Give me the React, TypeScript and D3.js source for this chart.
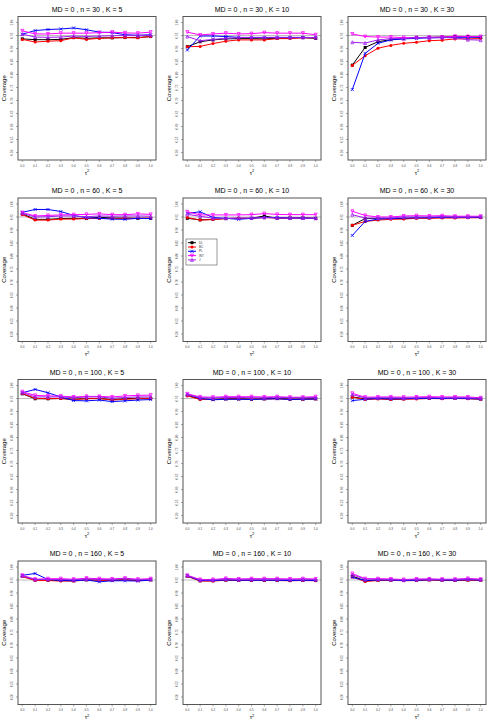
import * as d3 from "d3";

const W = 495;
const H = 726;

const tau = [0, 0.1, 0.2, 0.3, 0.4, 0.5, 0.6, 0.7, 0.8, 0.9, 1.0];
const xTickLabels = ["0.0", "0.1", "0.2", "0.3", "0.4", "0.5", "0.6", "0.7", "0.8", "0.9", "1.0"];
const yTicks = [0.5, 0.55, 0.6, 0.65, 0.7, 0.75, 0.8, 0.85, 0.9, 0.95, 1.0];
const yTickLabels = ["0.50", "0.55", "0.60", "0.65", "0.70", "0.75", "0.80", "0.85", "0.90", "0.95", "1.00"];

const nValues = [30, 60, 100, 160];
const kValues = [5, 10, 30];

const methods = ["DL", "BC", "PL", "INT", "J"];
const colors = ["#000000", "#ff0000", "#0000ff", "#ff00ff", "#a020f0"];

// one row per panel, order: n=30 K=5,10,30 ; n=60 ... ; n=100 ... ; n=160 ...
const DL = [
  [0.937, 0.934, 0.934, 0.935, 0.942, 0.939, 0.941, 0.941, 0.942, 0.942, 0.946],
  [0.907, 0.926, 0.933, 0.937, 0.938, 0.938, 0.937, 0.939, 0.941, 0.942, 0.939],
  [0.836, 0.904, 0.926, 0.934, 0.938, 0.942, 0.943, 0.944, 0.946, 0.946, 0.943],
  [0.962, 0.941, 0.941, 0.944, 0.945, 0.944, 0.949, 0.946, 0.946, 0.945, 0.945],
  [0.945, 0.939, 0.941, 0.944, 0.945, 0.945, 0.954, 0.945, 0.946, 0.946, 0.945],
  [0.918, 0.944, 0.944, 0.944, 0.944, 0.947, 0.947, 0.949, 0.949, 0.949, 0.949],
  [0.968, 0.949, 0.949, 0.950, 0.947, 0.950, 0.950, 0.946, 0.949, 0.951, 0.951],
  [0.962, 0.948, 0.947, 0.949, 0.949, 0.948, 0.949, 0.950, 0.948, 0.948, 0.949],
  [0.956, 0.949, 0.950, 0.948, 0.949, 0.950, 0.951, 0.950, 0.951, 0.950, 0.948],
  [0.965, 0.950, 0.949, 0.948, 0.947, 0.951, 0.950, 0.949, 0.952, 0.948, 0.951],
  [0.965, 0.947, 0.947, 0.950, 0.949, 0.949, 0.949, 0.949, 0.948, 0.949, 0.948],
  [0.965, 0.947, 0.950, 0.950, 0.948, 0.949, 0.951, 0.950, 0.949, 0.950, 0.950],
];
const BC = [
  [0.935, 0.925, 0.928, 0.930, 0.941, 0.935, 0.939, 0.941, 0.942, 0.941, 0.946],
  [0.907, 0.908, 0.919, 0.928, 0.933, 0.933, 0.933, 0.938, 0.938, 0.941, 0.941],
  [0.835, 0.872, 0.901, 0.912, 0.920, 0.924, 0.930, 0.932, 0.937, 0.937, 0.938],
  [0.959, 0.938, 0.938, 0.942, 0.942, 0.944, 0.944, 0.944, 0.945, 0.945, 0.946],
  [0.948, 0.938, 0.940, 0.944, 0.945, 0.945, 0.948, 0.946, 0.946, 0.946, 0.945],
  [0.918, 0.933, 0.938, 0.941, 0.942, 0.945, 0.945, 0.946, 0.946, 0.947, 0.947],
  [0.969, 0.951, 0.949, 0.950, 0.946, 0.949, 0.950, 0.944, 0.947, 0.949, 0.950],
  [0.960, 0.946, 0.946, 0.948, 0.948, 0.947, 0.948, 0.949, 0.947, 0.947, 0.948],
  [0.955, 0.946, 0.948, 0.946, 0.947, 0.948, 0.950, 0.949, 0.950, 0.949, 0.947],
  [0.963, 0.948, 0.948, 0.946, 0.946, 0.950, 0.949, 0.948, 0.951, 0.947, 0.950],
  [0.964, 0.946, 0.946, 0.949, 0.948, 0.948, 0.948, 0.948, 0.947, 0.948, 0.947],
  [0.962, 0.944, 0.948, 0.949, 0.947, 0.948, 0.950, 0.949, 0.948, 0.949, 0.949],
];
const PL = [
  [0.955, 0.969, 0.973, 0.975, 0.979, 0.972, 0.963, 0.961, 0.953, 0.951, 0.953],
  [0.894, 0.948, 0.948, 0.946, 0.943, 0.942, 0.942, 0.942, 0.942, 0.942, 0.942],
  [0.742, 0.881, 0.920, 0.933, 0.937, 0.939, 0.941, 0.942, 0.943, 0.943, 0.944],
  [0.968, 0.979, 0.979, 0.971, 0.956, 0.947, 0.945, 0.942, 0.941, 0.945, 0.944],
  [0.964, 0.970, 0.948, 0.945, 0.941, 0.945, 0.948, 0.948, 0.946, 0.946, 0.945],
  [0.879, 0.933, 0.942, 0.944, 0.946, 0.947, 0.947, 0.949, 0.949, 0.949, 0.949],
  [0.972, 0.985, 0.972, 0.956, 0.942, 0.941, 0.944, 0.938, 0.941, 0.944, 0.946],
  [0.966, 0.950, 0.945, 0.947, 0.947, 0.946, 0.948, 0.949, 0.946, 0.947, 0.948],
  [0.942, 0.947, 0.950, 0.948, 0.949, 0.950, 0.951, 0.950, 0.951, 0.950, 0.948],
  [0.968, 0.975, 0.952, 0.948, 0.947, 0.950, 0.943, 0.947, 0.947, 0.946, 0.950],
  [0.966, 0.948, 0.948, 0.950, 0.949, 0.949, 0.949, 0.949, 0.948, 0.949, 0.948],
  [0.960, 0.948, 0.950, 0.950, 0.948, 0.949, 0.951, 0.950, 0.949, 0.951, 0.950],
];
const INT = [
  [0.968, 0.956, 0.956, 0.959, 0.959, 0.959, 0.961, 0.963, 0.960, 0.959, 0.963],
  [0.963, 0.952, 0.956, 0.959, 0.956, 0.957, 0.961, 0.959, 0.959, 0.959, 0.953],
  [0.956, 0.946, 0.944, 0.944, 0.942, 0.942, 0.943, 0.944, 0.947, 0.946, 0.946],
  [0.967, 0.954, 0.956, 0.958, 0.959, 0.960, 0.962, 0.959, 0.959, 0.962, 0.960],
  [0.970, 0.958, 0.958, 0.958, 0.958, 0.959, 0.963, 0.960, 0.959, 0.959, 0.959],
  [0.972, 0.956, 0.950, 0.950, 0.954, 0.955, 0.954, 0.955, 0.953, 0.953, 0.953],
  [0.976, 0.962, 0.960, 0.959, 0.956, 0.958, 0.958, 0.956, 0.960, 0.962, 0.963],
  [0.968, 0.956, 0.955, 0.957, 0.957, 0.957, 0.956, 0.957, 0.955, 0.955, 0.957],
  [0.970, 0.955, 0.956, 0.956, 0.955, 0.956, 0.957, 0.956, 0.956, 0.956, 0.953],
  [0.968, 0.953, 0.955, 0.955, 0.953, 0.957, 0.955, 0.954, 0.957, 0.953, 0.955],
  [0.968, 0.952, 0.952, 0.956, 0.954, 0.955, 0.955, 0.955, 0.954, 0.955, 0.954],
  [0.975, 0.955, 0.955, 0.954, 0.952, 0.954, 0.954, 0.953, 0.953, 0.956, 0.953],
];
const J = [
  [0.955, 0.944, 0.943, 0.944, 0.948, 0.946, 0.948, 0.949, 0.950, 0.949, 0.951],
  [0.946, 0.930, 0.935, 0.939, 0.942, 0.943, 0.943, 0.943, 0.943, 0.943, 0.942],
  [0.924, 0.921, 0.933, 0.938, 0.938, 0.942, 0.941, 0.942, 0.941, 0.934, 0.932],
  [0.964, 0.950, 0.951, 0.954, 0.954, 0.951, 0.954, 0.953, 0.954, 0.954, 0.953],
  [0.960, 0.953, 0.945, 0.945, 0.946, 0.946, 0.948, 0.946, 0.946, 0.946, 0.945],
  [0.959, 0.946, 0.946, 0.946, 0.950, 0.950, 0.950, 0.951, 0.950, 0.950, 0.951],
  [0.973, 0.956, 0.956, 0.956, 0.953, 0.956, 0.956, 0.951, 0.954, 0.956, 0.956],
  [0.965, 0.953, 0.952, 0.954, 0.954, 0.953, 0.953, 0.955, 0.953, 0.953, 0.954],
  [0.965, 0.952, 0.953, 0.953, 0.952, 0.953, 0.954, 0.953, 0.953, 0.953, 0.951],
  [0.966, 0.951, 0.952, 0.952, 0.951, 0.954, 0.952, 0.952, 0.955, 0.951, 0.953],
  [0.967, 0.950, 0.950, 0.954, 0.952, 0.953, 0.953, 0.953, 0.952, 0.953, 0.952],
  [0.970, 0.953, 0.953, 0.952, 0.950, 0.952, 0.953, 0.952, 0.952, 0.954, 0.952],
];
const series = [DL, BC, PL, INT, J];

const cellW = 165;
const cellH = 181.5;

function Marker({ m, x, y, c }: { m: number; x: number; y: number; c: string }) {
  const s = 1.5;
  if (m === 0) return <rect x={x - s} y={y - s} width={2 * s} height={2 * s} fill={c} />;
  if (m === 1) return <circle cx={x} cy={y} r={s} fill={c} />;
  if (m === 2)
    return (
      <path d={`M${x - s},${y - s}L${x + s},${y + s}M${x - s},${y + s}L${x + s},${y - s}`} stroke={c} strokeWidth={0.8} />
    );
  if (m === 3)
    return <path d={`M${x - s},${y - s}L${x + s},${y - s}L${x},${y + s}Z`} fill="none" stroke={c} strokeWidth={0.8} />;
  return <path d={`M${x - s},${y + s}L${x + s},${y + s}L${x},${y - s}Z`} fill="none" stroke={c} strokeWidth={0.8} />;
}

function Panel({ row, col }: { row: number; col: number }) {
  const idx = row * 3 + col;
  const cx = col * cellW;
  const cy = row * cellH;
  const left = cx + 18;
  const right = cx + 156;
  const top = cy + 16.5;
  const bottom = cy + 160;
  const x = d3.scaleLinear().domain([0, 1]).range([cx + 22.3, cx + 150.7]);
  const y = d3.scaleLinear().domain([0.5, 1]).range([cy + 152.5, cy + 22.5]);
  const line = d3
    .line<number>()
    .x((_, i) => x(tau[i]))
    .y((d) => y(d));
  const title = `MD = 0 , n = ${nValues[row]} , K = ${kValues[col]}`;
  return (
    <g>
      <text x={(left + right) / 2} y={cy + 11.5} fontSize={7} textAnchor="middle" fill="#000">
        {title}
      </text>
      <line x1={left} x2={right} y1={y(0.95)} y2={y(0.95)} stroke="#bebebe" strokeWidth={1} />
      {series.map((s, k) => (
        <g key={k}>
          <path d={line(s[idx]) || ""} fill="none" stroke={colors[k]} strokeWidth={1} />
          {s[idx].map((v, i) => (
            <Marker key={i} m={k} x={x(tau[i])} y={y(v)} c={colors[k]} />
          ))}
        </g>
      ))}
      <rect x={left} y={top} width={right - left} height={bottom - top} fill="none" stroke="#555" strokeWidth={1} />
      {yTicks.map((t, i) => (
        <g key={i}>
          <line x1={left} x2={left - 2} y1={y(t)} y2={y(t)} stroke="#555" strokeWidth={0.5} />
          <text
            transform={`translate(${left - 5},${y(t)}) rotate(-90)`}
            fontSize={3}
            textAnchor="middle"
            fill="#444"
          >
            {yTickLabels[i]}
          </text>
        </g>
      ))}
      {tau.map((t, i) => (
        <g key={i}>
          <line x1={x(t)} x2={x(t)} y1={bottom} y2={bottom + 2} stroke="#555" strokeWidth={0.5} />
          <text x={x(t)} y={bottom + 6.5} fontSize={3} textAnchor="middle" fill="#444">
            {xTickLabels[i]}
          </text>
        </g>
      ))}
      <text x={(left + right) / 2} y={bottom + 14.5} fontSize={6} textAnchor="middle" fill="#000">
        τ
        <tspan fontSize={4} dy={-2.5}>
          2
        </tspan>
      </text>
      <text
        transform={`translate(${cx + 6},${(top + bottom) / 2}) rotate(-90)`}
        fontSize={6}
        textAnchor="middle"
        fill="#000"
      >
        Coverage
      </text>
    </g>
  );
}

function Legend() {
  const lx = cellW + 21;
  const ly = cellH + 57.5;
  return (
    <g>
      <rect x={lx} y={ly} width={31} height={26} fill="#fff" stroke="#555" strokeWidth={0.6} />
      {methods.map((m, k) => {
        const yy = ly + 3.7 + k * 4.3;
        return (
          <g key={m}>
            <line x1={lx + 2} x2={lx + 10} y1={yy} y2={yy} stroke={colors[k]} strokeWidth={1} />
            <Marker m={k} x={lx + 6} y={yy} c={colors[k]} />
            <text x={lx + 13} y={yy + 1.1} fontSize={3} fill="#333">
              {m}
            </text>
          </g>
        );
      })}
    </g>
  );
}

export default function App() {
  const rows = [0, 1, 2, 3];
  const cols = [0, 1, 2];
  return (
    <svg
      width={W}
      height={H}
      viewBox={`0 0 ${W} ${H}`}
      style={{ position: "absolute", left: 0, top: 0, background: "#fff" }}
      fontFamily="Liberation Sans, Arial, sans-serif"
    >
      <rect x={0} y={0} width={W} height={H} fill="#fff" />
      {rows.map((r) => cols.map((c) => <Panel key={`${r}-${c}`} row={r} col={c} />))}
      <Legend />
    </svg>
  );
}
